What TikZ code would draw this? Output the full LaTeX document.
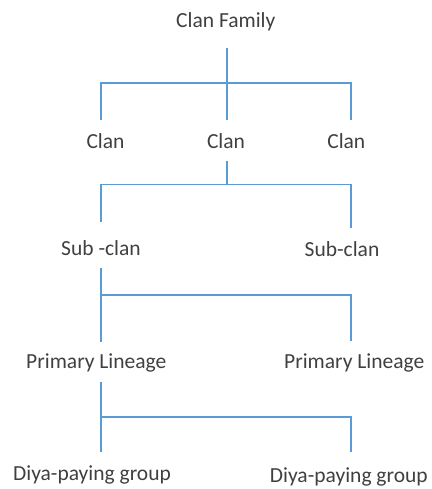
\documentclass[tikz,border=0pt]{standalone}
\usepackage{fontspec}
\setmainfont{Carlito}
\definecolor{linkblue}{HTML}{5B9BD5}
\definecolor{labelgray}{HTML}{404040}
\tikzset{
  lbl/.style={anchor=base,inner sep=0pt,text height=14pt,text depth=4pt,text=labelgray,font=\fontsize{21.5}{24}\selectfont},
  link/.style={draw=linkblue,line width=1.8pt}
}
\begin{document}
\begin{tikzpicture}[x=1pt,y=-1pt]
   \useasboundingbox (0,0) rectangle (431,489);
   \coordinate (lcol) at (101,0);
   \coordinate (mcol) at (227,0);
   \coordinate (rcol) at (351,0);
   \coordinate (bar1) at (227,83.3);
   \coordinate (bar2) at (227,184.5);
   \coordinate (bar3) at (101,295);
   \coordinate (bar4) at (101,416.7);
   \node [lbl] (fam) at (225.8,27.5) {Clan Family};
   \node [lbl] (c1) at (105.5,148.3) {Clan};
   \node [lbl] (c2) at (226,148.3) {Clan};
   \node [lbl] (c3) at (346.3,148.3) {Clan};
   \node [lbl] (sub1) at (101,255.7) {Sub -clan};
   \node [lbl] (sub2) at (342,256) {Sub-clan};
   \node [lbl] (pri1) at (96.3,368.3) {Primary Lineage};
   \node [lbl] (pri2) at (354.2,368.3) {Primary Lineage};
   \node [lbl] (diya1) at (92,480) {Diya-paying group};
   \node [lbl] (diya2) at (348.8,482.7) {Diya-paying group};
   \draw [link,shorten <=16pt,shorten >=14.3pt] (fam.south -| mcol) -- (c2.north -| mcol);
   \draw [link,shorten <=14.3pt,shorten >=14.3pt] (c1.north -| lcol) |- (bar1) -| (c3.north -| rcol);
   \draw [link,shorten <=8.7pt] (c2.south -| mcol) -- (bar2);
   \draw [link,shorten <=20pt,shorten >=13.7pt] (sub1.north -| lcol) |- (bar2) -| (sub2.north -| rcol);
   \draw [link,shorten <=8pt,shorten >=12.6pt] (sub1.south -| lcol) -- (pri1.north -| lcol);
   \draw [link,shorten >=13.3pt] (bar3) -| (pri2.north -| rcol);
   \draw [link,shorten <=9.4pt,shorten >=13.7pt] (pri1.south -| lcol) -- (diya1.north -| lcol);
   \draw [link,shorten >=17pt] (bar4) -| (diya2.north -| rcol);
\end{tikzpicture}
\end{document}
